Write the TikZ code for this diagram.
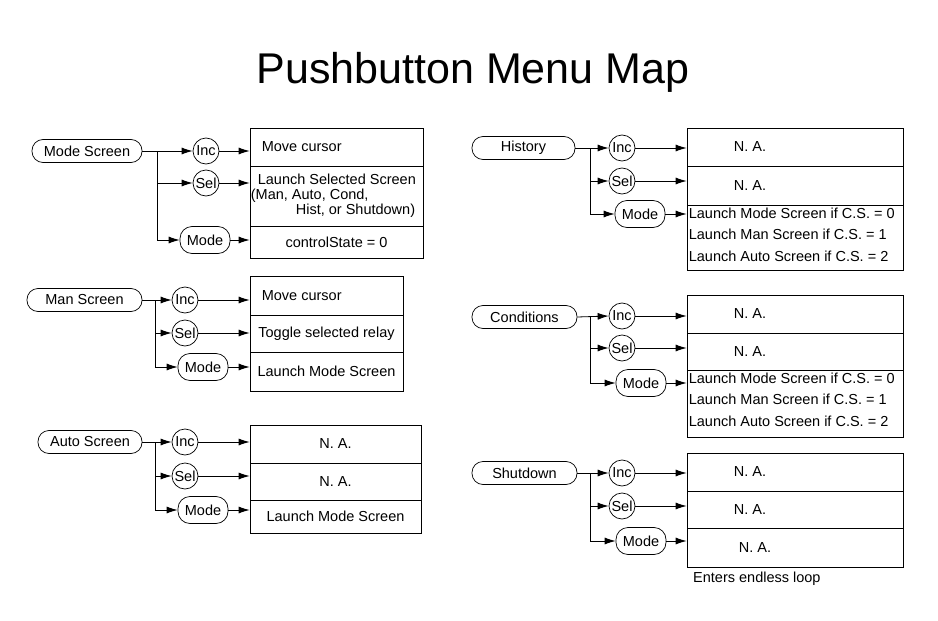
\documentclass[tikz,border=0pt]{standalone}
\usepackage{fontspec}
\setmainfont{Liberation Sans}
\usetikzlibrary{arrows.meta}
\begin{document}
\begin{tikzpicture}[x=1pt,y=-1pt,
  every node/.style={font=\fontsize{14.5}{16}\selectfont, inner sep=1pt},
  pill/.style={draw, rounded corners=11pt, minimum height=23, inner sep=2pt, line width=0.7pt},
  btn/.style={draw, circle, minimum size=26, inner sep=0pt, line width=0.7pt},
  mbtn/.style={draw, rounded corners=12pt, minimum height=27, minimum width=50, inner sep=0pt, line width=0.7pt},
  row/.style={draw, rectangle, inner sep=0pt, line width=0.7pt},
  ar/.style={-{Latex[length=11pt,width=7pt]}, line width=0.8pt},
  ln/.style={line width=0.8pt},
  cs/.style={anchor=north west, align=left, inner sep=2pt, font=\fontsize{14.5}{21.5}\selectfont}]
\useasboundingbox (0,0) rectangle (938,621);
\node[font=\fontsize{43}{46}\selectfont] (title) at (473,72) {Pushbutton Menu Map};

% ---- Mode Screen
\node[pill, minimum width=110] (p1) at (87,151) {Mode Screen};
\node[btn] (i1) at (206,151) {Inc};
\node[btn] (s1) at (206,183) {Sel};
\node[mbtn] (m1) at (205,240) {Mode};
\node[row, minimum width=173, minimum height=38] (a1) at (336.5,147) {};
\node[anchor=west] at (a1.west) [xshift=11pt] {Move cursor};
\node[row, minimum width=173, minimum height=60] (b1) at (336.5,196) {};
\node[align=left, anchor=west, font=\fontsize{14.5}{15}\selectfont] at (b1.west) {\hspace*{7pt}Launch Selected Screen\\(Man, Auto, Cond,\\\hspace*{45pt}Hist, or Shutdown)};
\node[row, minimum width=173, minimum height=32] (c1) at (336.5,242) {controlState = 0};
\coordinate (j1) at (157,151);
\draw[ar] (p1.east) -- (i1.west);
\draw[ln] (j1) |- ([xshift=-20pt]m1.west);
\draw[ar] (j1 |- s1) -- (s1.west);
\draw[ar] (j1 |- m1) -- (m1.west);
\draw[ar] (i1.east) -- (a1.west |- i1);
\draw[ar] (s1.east) -- (b1.west |- s1);
\draw[ar] (m1.east) -- (c1.west |- m1);

% ---- Man Screen
\node[pill, minimum width=115] (p2) at (84.5,300) {Man Screen};
\node[btn] (i2) at (185,300) {Inc};
\node[btn] (s2) at (185,333) {Sel};
\node[mbtn] (m2) at (203,367) {Mode};
\node[row, minimum width=153, minimum height=39] (a2) at (326.5,295.5) {};
\node[anchor=west] at (a2.west) [xshift=11pt] {Move cursor};
\node[row, minimum width=153, minimum height=37] (b2) at (326.5,333.5) {Toggle selected relay};
\node[row, minimum width=153, minimum height=39] (c2) at (326.5,371.5) {Launch Mode Screen};
\coordinate (j2) at (155,300);
\draw[ar] (p2.east) -- (i2.west);
\draw[ln] (j2) |- ([xshift=-15pt]m2.west);
\draw[ar] (j2 |- s2) -- (s2.west);
\draw[ar] (j2 |- m2) -- (m2.west);
\draw[ar] (i2.east) -- (a2.west |- i2);
\draw[ar] (s2.east) -- (b2.west |- s2);
\draw[ar] (m2.east) -- (c2.west |- m2);

% ---- Auto Screen
\node[pill, minimum width=104] (p3) at (90,442) {Auto Screen};
\node[btn] (i3) at (185,442) {Inc};
\node[btn] (s3) at (185,476) {Sel};
\node[mbtn] (m3) at (203,510) {Mode};
\node[row, minimum width=171, minimum height=38] (a3) at (335.5,444) {N. A.};
\node[row, minimum width=171, minimum height=37] (b3) at (335.5,481.5) {N. A.};
\node[row, minimum width=171, minimum height=33] (c3) at (335.5,516.5) {Launch Mode Screen};
\coordinate (j3) at (155,442);
\draw[ar] (p3.east) -- (i3.west);
\draw[ln] (j3) |- ([xshift=-15pt]m3.west);
\draw[ar] (j3 |- s3) -- (s3.west);
\draw[ar] (j3 |- m3) -- (m3.west);
\draw[ar] (i3.east) -- (a3.west |- i3);
\draw[ar] (s3.east) -- (b3.west |- s3);
\draw[ar] (m3.east) -- (c3.west |- m3);

% ---- History
\node[pill, minimum width=103] (p4) at (523.5,148) {History};
\node[btn] (i4) at (622,148) {Inc};
\node[btn] (s4) at (622,181) {Sel};
\node[mbtn] (m4) at (640,214) {Mode};
\node[row, minimum width=216, minimum height=38] (a4) at (795,147) {};
\node at ([xshift=-45pt]a4.center) {N. A.};
\node[row, minimum width=216, minimum height=39] (b4) at (795,185.5) {};
\node at ([xshift=-45pt]b4.center) {N. A.};
\node[row, minimum width=216, minimum height=65] (c4) at (795,237.5) {};
\node[cs] at ([yshift=-1pt]c4.north west) {Launch Mode Screen if C.S. = 0\\Launch Man Screen if C.S. = 1\\Launch Auto Screen if C.S. = 2};
\coordinate (j4) at (590,148);
\draw[ar] (p4.east) -- (i4.west);
\draw[ln] (j4) |- ([xshift=-15pt]m4.west);
\draw[ar] (j4 |- s4) -- (s4.west);
\draw[ar] (j4 |- m4) -- (m4.west);
\draw[ar] (i4.east) -- (a4.west |- i4);
\draw[ar] (s4.east) -- (b4.west |- s4);
\draw[ar] (m4.east) -- (c4.west |- m4);

% ---- Conditions
\node[pill, minimum width=105] (p5) at (524.5,317) {Conditions};
\node[btn] (i5) at (622,316) {Inc};
\node[btn] (s5) at (622,348) {Sel};
\node[mbtn] (m5) at (641,383) {Mode};
\node[row, minimum width=216, minimum height=38] (a5) at (795,314) {};
\node at ([xshift=-45pt]a5.center) {N. A.};
\node[row, minimum width=216, minimum height=37] (b5) at (795,351.5) {};
\node at ([xshift=-45pt]b5.center) {N. A.};
\node[row, minimum width=216, minimum height=67] (c5) at (795,403.5) {};
\node[cs] at ([yshift=-1pt]c5.north west) {Launch Mode Screen if C.S. = 0\\Launch Man Screen if C.S. = 1\\Launch Auto Screen if C.S. = 2};
\coordinate (j5) at (590,317);
\draw[ar] (p5.east) -- (i5.west);
\draw[ln] (j5) |- ([xshift=-15pt]m5.west);
\draw[ar] (j5 |- s5) -- (s5.west);
\draw[ar] (j5 |- m5) -- (m5.west);
\draw[ar] (i5.east) -- (a5.west |- i5);
\draw[ar] (s5.east) -- (b5.west |- s5);
\draw[ar] (m5.east) -- (c5.west |- m5);

% ---- Shutdown
\node[pill, minimum width=105] (p6) at (524.5,473) {Shutdown};
\node[btn] (i6) at (622,473) {Inc};
\node[btn] (s6) at (622,506) {Sel};
\node[mbtn] (m6) at (641,541) {Mode};
\node[row, minimum width=216, minimum height=38] (a6) at (795,472) {};
\node at ([xshift=-45pt]a6.center) {N. A.};
\node[row, minimum width=216, minimum height=37] (b6) at (795,509.5) {};
\node at ([xshift=-45pt]b6.center) {N. A.};
\node[row, minimum width=216, minimum height=39] (c6) at (795,547.5) {};
\node at ([xshift=-40pt]c6.center) {N. A.};
\node[anchor=west] (note) at (692,579) {Enters endless loop};
\coordinate (j6) at (590,473);
\draw[ar] (p6.east) -- (i6.west);
\draw[ln] (j6) |- ([xshift=-15pt]m6.west);
\draw[ar] (j6 |- s6) -- (s6.west);
\draw[ar] (j6 |- m6) -- (m6.west);
\draw[ar] (i6.east) -- (a6.west |- i6);
\draw[ar] (s6.east) -- (b6.west |- s6);
\draw[ar] (m6.east) -- (c6.west |- m6);
\end{tikzpicture}
\end{document}
